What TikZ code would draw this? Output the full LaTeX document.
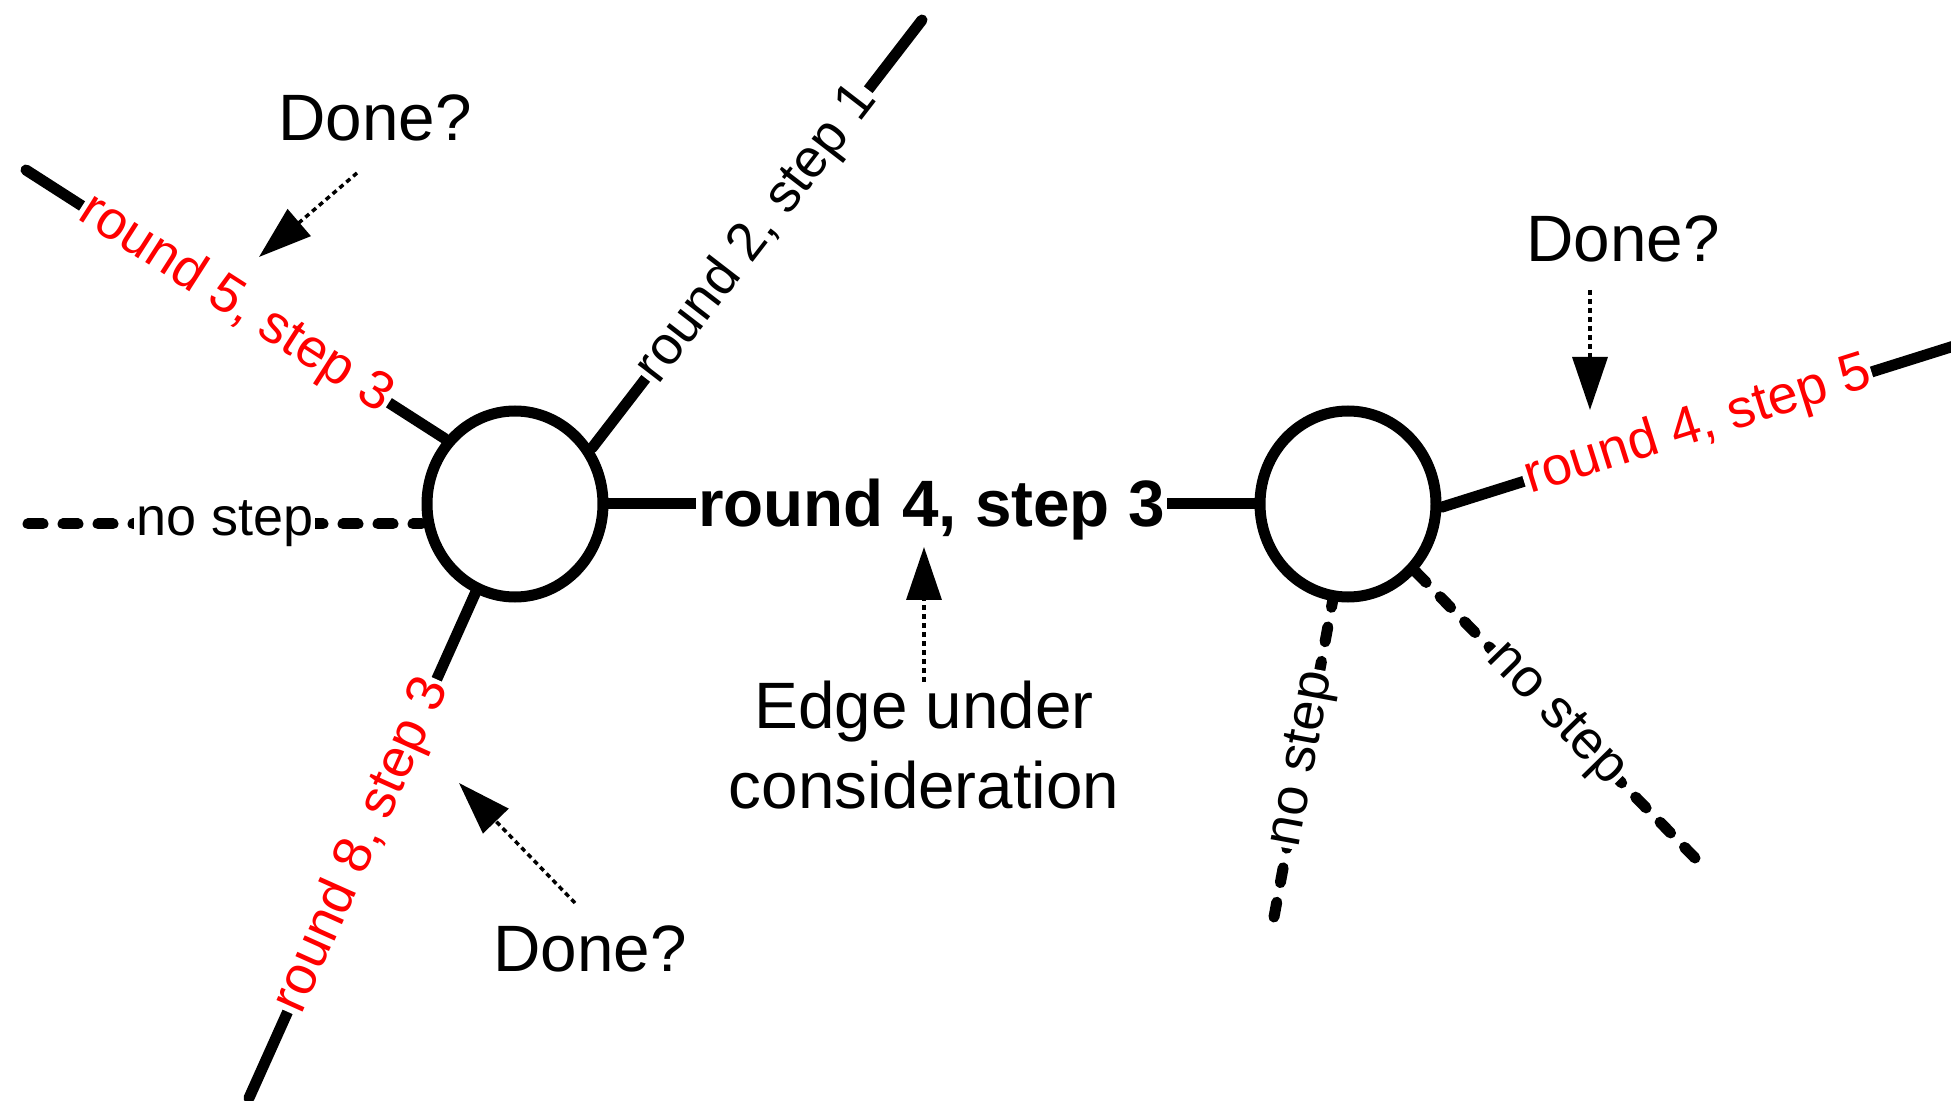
\documentclass[tikz,border=0pt]{standalone}
\usepackage{fontspec}
\setmainfont{Liberation Sans}
\usetikzlibrary{shapes.geometric,arrows.meta}
\pgfdeclarelayer{background}
\pgfsetlayers{background,main}
\definecolor{labelred}{RGB}{255,0,0}
\newcommand\bigtext{\fontsize{32.8}{40}\selectfont}
\newcommand\smalltext{\fontsize{27}{32}\selectfont}

\begin{document}
\begin{tikzpicture}[x=0.5pt,y=-0.5pt,
  vertex/.style={draw, ellipse, line width=5.5pt, fill=white,
    minimum width=88pt, minimum height=93pt, inner sep=0pt},
  edge/.style={line width=5.5pt, line cap=round},
  idle/.style={edge, dash pattern=on 7.5pt off 10pt},
  tag/.style={midway, sloped, fill=white, inner sep=1pt, font=\smalltext, text=black},
  hot/.style={tag, text=labelred},
  note/.style={font=\bigtext, anchor=base, align=center},
  hint/.style={line width=1.75pt, dash pattern=on 2.5pt off 2pt,
    -{Triangle[length=26.5pt,width=17.5pt]}}
]
\useasboundingbox (0,0) rectangle (1951,1101);
\clip (0,0) rectangle (1951,1101);

% the two endpoints of the edge under consideration
\node[vertex] (L) at (515,504) {};
\node[vertex] (R) at (1348,504) {};

% free ends of the other edges
\coordinate (l1) at (26,170);
\coordinate (l2) at (922,20);
\coordinate (l3) at (28,524);
\coordinate (l4) at (249,1098);
\coordinate (r1) at (1954,346);
\coordinate (r2) at (1274,917);
\coordinate (r3) at (1695,858);

\begin{pgfonlayer}{background}
  \draw[edge] (L.east) -- node[midway, yshift=-3pt, fill=white, inner sep=1pt, font=\bigtext\bfseries]{round 4, step 3} (R.west);
  \draw[edge] (l1) -- node[hot]{round 5, step 3} (L.137);
  \draw[edge] (L.36) -- node[tag]{round 2, step 1} (l2);
  \draw[idle] (l3) -- node[tag]{no step} (l3 -| L.west);
  \draw[edge] (l4) -- node[hot]{round 8, step 3} (L.246);
  \draw[edge] (R.358) -- node[hot]{round 4, step 5} (r1);
  \draw[idle] (r2) -- node[tag]{no step} (R.261);
  \draw[idle] (r3) -- node[tag]{no step} (R.315);
\end{pgfonlayer}

% annotations
\node[note] (d1) at (375,141) {Done?};
\node[note] (d2) at (1623,262) {Done?};
\node[note] (d3) at (590,971) {Done?};
\node[note] (eq) at (924,808) {Edge under\\consideration};

\coordinate (a1s) at (357,173);
\coordinate (a1e) at (259,257);
\coordinate (a2s) at (1590,290);
\coordinate (a2e) at (1590,410);
\coordinate (a3s) at (575,903);
\coordinate (a3e) at (459,783);
\coordinate (a4s) at (924,682);
\coordinate (a4e) at (924,547);

\draw[hint] (a1s) -- (a1e);
\draw[hint] (a2s) -- (a2e);
\draw[hint] (a3s) -- (a3e);
\draw[hint] (a4s) -- (a4e);
\end{tikzpicture}
\end{document}
